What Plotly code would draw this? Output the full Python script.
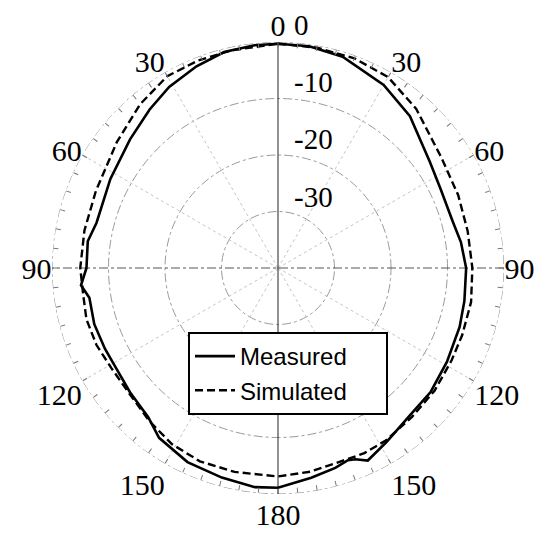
import math
import plotly.graph_objects as go

# Radiation pattern, angles in degrees clockwise from broadside (0 at top), gain in dB
meas_theta = [0, 8, 17, 30, 41, 55, 64, 75, 82, 90, 100, 108, 119, 129, 138, 148,
              155, 158, 160, 164, 171, 180, 186, 195, 205, 215, 221, 230, 238, 245,
              253, 261, 265, 270, 278, 284, 298, 311, 321, 329, 338, 346, 354, 360]
meas_db = [-0.3, -0.35, -0.9, -2.6, -4.4, -7.2, -8.0, -8.0, -7.3, -6.7, -6.5, -6.2,
           -5.8, -5.2, -5.0, -3.7, -2.4, -3.5, -3.8, -3.2, -2.4, -1.1, -1.0, -1.6,
           -2.1, -3.3, -5.0, -5.8, -6.3, -6.2, -6.0, -6.2, -5.0, -6.1, -6.0, -6.9,
           -6.4, -5.3, -3.9, -2.6, -1.5, -0.6, -0.35, -0.3]

sim_theta = [0, 10, 20, 30, 41, 56, 68, 79, 90, 100, 110, 118, 128, 138, 148, 155,
             160, 171, 180, 192, 202, 211, 220, 231, 239, 247, 255, 262, 270, 281,
             293, 308, 320, 330, 339, 348, 360]
sim_db = [-0.3, -0.4, -0.5, -1.0, -2.7, -5.1, -5.6, -5.8, -5.6, -5.3, -5.3, -5.2,
          -4.8, -4.55, -4.0, -3.85, -4.0, -3.5, -3.1, -3.1, -3.1, -3.6, -4.6, -5.6,
          -5.6, -5.1, -4.9, -5.2, -5.0, -5.1, -5.0, -3.8, -2.1, -0.8, -0.65, -0.6, -0.3]

series_names = ["Measured", "Simulated"]

r_min, r_max = -40, 0
radial_ticks = [0, -10, -20, -30]
angle_ticks = list(range(0, 360, 5))
angle_labels = [str(a if a <= 180 else 360 - a) if a % 30 == 0 else "" for a in angle_ticks]
spokes = [30, 60, 120, 150, 210, 240, 300, 330]
ring_theta = list(range(0, 361, 2))

W, H = 547, 534
ML, MT = 52, 42
D = 452                      # square polar domain in px
R_PX = D / 2
PX_PER_DB = R_PX / (r_max - r_min)

serif = "Liberation Serif"
sans = "Liberation Sans"
PAD = "\u00a0" * 5           # right-hand padding inside the legend box

fig = go.Figure()

# faint dotted spokes
for a in spokes:
    fig.add_trace(go.Scatterpolar(r=[r_min, r_max], theta=[a, a], mode="lines",
                                  line=dict(color="#c4c4c4", width=1, dash="dot"),
                                  showlegend=False, hoverinfo="skip"))
# outer 0 dB ring
fig.add_trace(go.Scatterpolar(r=[r_max] * len(ring_theta), theta=ring_theta, mode="lines",
                              line=dict(color="#8a8a8a", width=1, dash="dashdot"),
                              showlegend=False, hoverinfo="skip"))
# principal axes
fig.add_trace(go.Scatterpolar(r=[r_max, r_min, r_max], theta=[0, 0, 180], mode="lines",
                              line=dict(color="#222", width=1),
                              showlegend=False, hoverinfo="skip"))
fig.add_trace(go.Scatterpolar(r=[r_max, r_min, r_max], theta=[90, 90, 270], mode="lines",
                              line=dict(color="#555", width=1, dash="dashdot"),
                              showlegend=False, hoverinfo="skip"))

fig.add_trace(go.Scatterpolar(r=meas_db, theta=meas_theta, mode="lines",
                              name=series_names[0] + PAD,
                              line=dict(color="black", width=2.6)))
fig.add_trace(go.Scatterpolar(r=sim_db, theta=sim_theta, mode="lines",
                              name=series_names[1] + PAD,
                              line=dict(color="black", width=2.4, dash="8px,4px")))

# radial tick labels: anchored on each ring, just right of the 0-180 axis
lab_t = []
for v in radial_ticks:
    ring = (v - r_min) * PX_PER_DB
    lab_t.append(math.degrees(math.asin(16.0 / ring)))
fig.add_trace(go.Scatterpolar(r=radial_ticks, theta=lab_t, mode="text",
                              text=[str(v) for v in radial_ticks],
                              textposition="top right",
                              textfont=dict(family=serif, size=29, color="black"),
                              cliponaxis=False, showlegend=False, hoverinfo="skip"))

fig.update_layout(
    width=W, height=H,
    margin=dict(l=ML, r=W - ML - D, t=MT, b=H - MT - D),
    paper_bgcolor="white", plot_bgcolor="white",
    polar=dict(
        bgcolor="white",
        domain=dict(x=[0, 1], y=[0, 1]),
        radialaxis=dict(range=[r_min, r_max], tickvals=radial_ticks,
                        showticklabels=False, ticks="", showline=False,
                        gridcolor="#9a9a9a", griddash="dashdot", gridwidth=1),
        angularaxis=dict(direction="clockwise", rotation=90,
                         tickvals=angle_ticks, ticktext=angle_labels,
                         ticks="inside", ticklen=5, tickcolor="#777", tickwidth=1,
                         showgrid=False, showline=False,
                         tickfont=dict(family=serif, size=30, color="black")),
    ),
    legend=dict(x=(188 - ML) / D, y=(H - 40 - 332) / D, xanchor="left", yanchor="top",
                bgcolor="white", bordercolor="black", borderwidth=2,
                font=dict(family=sans, size=24, color="black"),
                itemwidth=40),
    showlegend=True,
)

fig.write_html("out.html")
